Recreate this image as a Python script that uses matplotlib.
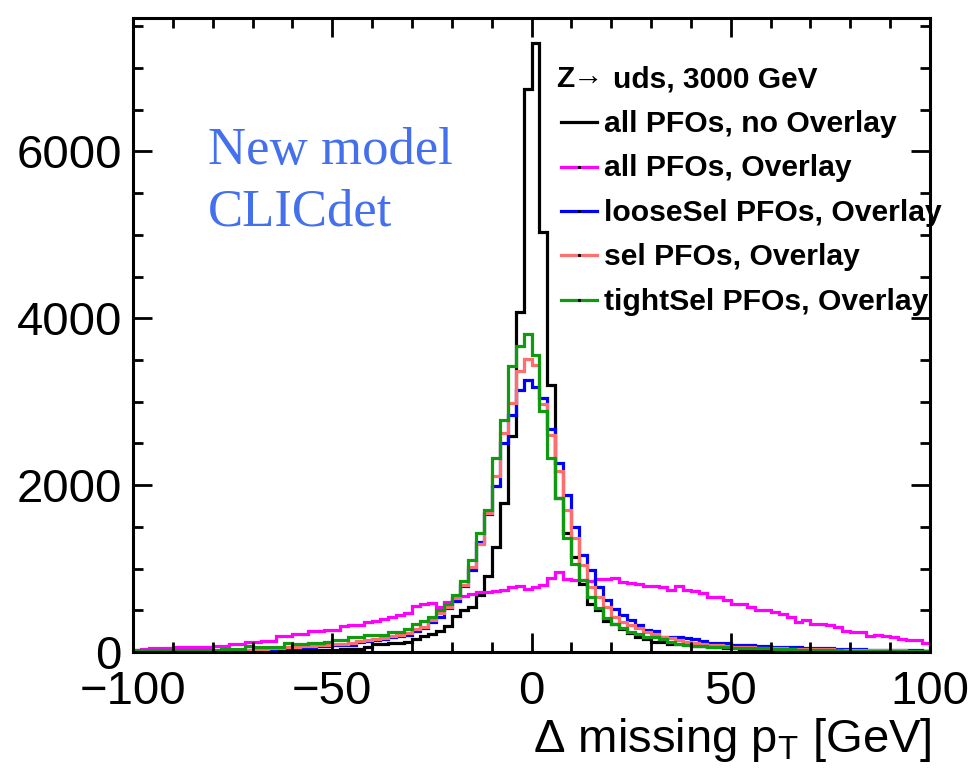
import numpy as np
import matplotlib
matplotlib.use("Agg")
import matplotlib.pyplot as plt
from matplotlib.lines import Line2D
from matplotlib.ticker import MultipleLocator

plt.rcParams['font.family'] = ['Liberation Sans', 'DejaVu Sans']
plt.rcParams['mathtext.fontset'] = 'custom'
plt.rcParams['mathtext.rm'] = 'Liberation Sans'
plt.rcParams['mathtext.it'] = 'Liberation Sans:italic'

# 2 GeV bins from -100 to 100 GeV
bin_edges = np.arange(-100, 101, 2)

all_no_overlay = [
    2, 2, 3, 2, 4, 3, 4, 5, 4, 6,
    6, 7, 8, 8, 10, 11, 12, 13, 14, 16,
    17, 19, 20, 22, 24, 27, 30, 32, 38, 60,
    96, 100, 102, 106, 124, 150, 190, 215, 255, 310,
    430, 504, 540, 684, 912, 1260, 1790, 2584, 4080, 6744,
    7296, 5040, 3204, 1850, 1430, 1140, 810, 580, 500, 370,
    330, 270, 226, 176, 152, 124, 124, 96, 96, 90,
    76, 70, 56, 54, 50, 44, 40, 38, 36, 34,
    30, 28, 26, 24, 22, 22, 20, 18, 18, 16,
    15, 14, 14, 12, 12, 11, 10, 10, 9, 8,
]

all_overlay = [
    24, 32, 44, 44, 48, 56, 56, 60, 64, 64,
    72, 72, 96, 96, 124, 124, 136, 136, 192, 192,
    216, 216, 256, 256, 264, 268, 312, 320, 328, 364,
    368, 392, 424, 440, 470, 550, 570, 590, 536, 600,
    640, 672, 696, 716, 724, 728, 744, 776, 790, 756,
    784, 804, 890, 960, 876, 864, 860, 856, 872, 872,
    884, 840, 832, 816, 792, 792, 780, 744, 792, 740,
    736, 710, 664, 664, 624, 572, 572, 540, 504, 500,
    480, 456, 424, 364, 380, 340, 336, 320, 304, 256,
    244, 244, 192, 200, 192, 176, 152, 140, 144, 112,
]

loose_overlay = [
    1, 1, 2, 2, 3, 3, 4, 4, 5, 6,
    5, 7, 10, 16, 22, 24, 28, 40, 44, 46,
    52, 56, 58, 70, 72, 80, 84, 88, 120, 126,
    142, 150, 176, 190, 204, 256, 284, 364, 424, 524,
    616, 790, 984, 1320, 1660, 1984, 2500, 2844, 3144, 3264,
    3176, 3044, 2672, 2264, 1884, 1504, 1164, 984, 784, 624,
    512, 444, 384, 324, 264, 256, 184, 184, 176, 170,
    160, 136, 112, 112, 112, 84, 84, 78, 72, 70,
    64, 62, 58, 56, 52, 48, 44, 44, 40, 40,
    34, 30, 28, 26, 24, 22, 20, 20, 18, 16,
]

sel_overlay = [
    2, 2, 3, 3, 4, 4, 5, 5, 6, 7,
    8, 10, 14, 24, 28, 30, 36, 48, 52, 56,
    64, 68, 70, 82, 86, 96, 100, 104, 136, 140,
    156, 166, 190, 204, 224, 272, 304, 384, 464, 544,
    644, 804, 1024, 1300, 1672, 2112, 2624, 2984, 3364, 3512,
    3444, 2976, 2604, 2164, 1704, 1364, 1044, 784, 664, 544,
    424, 364, 324, 284, 244, 216, 184, 164, 140, 120,
    104, 96, 88, 80, 72, 64, 60, 56, 52, 48,
    46, 44, 40, 38, 36, 34, 32, 30, 28, 26,
    25, 24, 22, 21, 20, 19, 18, 17, 16, 15,
]

tight_overlay = [
    22, 22, 24, 24, 24, 24, 26, 26, 26, 28,
    28, 30, 30, 32, 74, 56, 56, 58, 58, 106,
    90, 90, 112, 112, 118, 144, 144, 176, 176, 204,
    204, 204, 244, 244, 276, 330, 370, 420, 500, 580,
    684, 854, 1104, 1424, 1704, 2324, 2784, 3424, 3664, 3816,
    3564, 2884, 2324, 1844, 1364, 1054, 864, 664, 530, 410,
    330, 284, 240, 216, 184, 176, 152, 124, 96, 84,
    72, 72, 64, 64, 60, 52, 50, 44, 44, 42,
    40, 36, 32, 28, 26, 24, 22, 20, 18, 16,
    16, 15, 14, 14, 13, 12, 12, 12, 11, 10,
]

series_labels = [
    "all PFOs, no Overlay",
    "all PFOs, Overlay",
    "looseSel PFOs, Overlay",
    "sel PFOs, Overlay",
    "tightSel PFOs, Overlay",
]
series_values = [all_no_overlay, all_overlay, loose_overlay, sel_overlay, tight_overlay]
series_colors = ["#000000", "#ff00ff", "#0000ff", "#ff6e6e", "#109a10"]

x_ticks = [-100, -50, 0, 50, 100]
y_ticks = [0, 2000, 4000, 6000]

W, H = 972, 772
fig = plt.figure(figsize=(W / 100, H / 100), dpi=100)
left, right, top, bottom = 133, 930, 18, 652
ax = fig.add_axes([left / W, 1 - bottom / H, (right - left) / W, (bottom - top) / H])

for vals, col in zip(series_values, series_colors):
    ax.stairs(vals, bin_edges, color=col, lw=2.3, baseline=0)

ax.set_xlim(-100, 100)
ax.set_ylim(0, 7600)
ax.set_xticks(x_ticks)
ax.set_yticks(y_ticks)
ax.xaxis.set_minor_locator(MultipleLocator(10))
ax.yaxis.set_minor_locator(MultipleLocator(500))
ax.tick_params(which='both', direction='in', top=True, right=True, width=2)
ax.tick_params(which='major', length=14, labelsize=34)
ax.tick_params(which='minor', length=7.5)
ax.tick_params(axis='x', which='major', pad=13)
ax.tick_params(axis='y', which='major', pad=8)
for sp in ax.spines.values():
    sp.set_linewidth(2.2)


def fx(px):
    return px / W


def fy(py):
    return 1 - py / H


fig.text(fx(932), fy(752), "\u0394 missing p$_{\\mathrm{T}}$ [GeV]",
         ha='right', va='baseline', fontsize=34)

fig.text(fx(208), fy(164), "New model", family=['Liberation Serif', 'DejaVu Serif'],
         fontsize=38, color='#4470ee', va='baseline')
fig.text(fx(208), fy(226), "CLICdet", family=['Liberation Serif', 'DejaVu Serif'],
         fontsize=38, color='#4470ee', va='baseline')

# legend block
fig.text(fx(556), fy(87), "Z", fontsize=21.5, fontweight='bold', va='baseline')
fig.text(fx(573), fy(86), "\u2192", fontsize=22, va='baseline')
fig.text(fx(613), fy(87), "uds, 3000 GeV", fontsize=21.5, fontweight='bold', va='baseline')

entry_y = [122, 166.5, 211, 255, 299.5]
for i, (lab, col) in enumerate(zip(series_labels, series_colors)):
    yy = fy(entry_y[i])
    fig.add_artist(Line2D([fx(561), fx(597)], [yy, yy], transform=fig.transFigure,
                          color=col, lw=2.3))
    if i > 0:
        fig.add_artist(Line2D([fx(579)], [yy], transform=fig.transFigure,
                              marker='s', ms=1.2, color='k', lw=0))
    fig.text(fx(604), fy(entry_y[i] + 10), lab, fontsize=21.7, fontweight='bold',
             va='baseline')

fig.savefig("out.png", dpi=100)
